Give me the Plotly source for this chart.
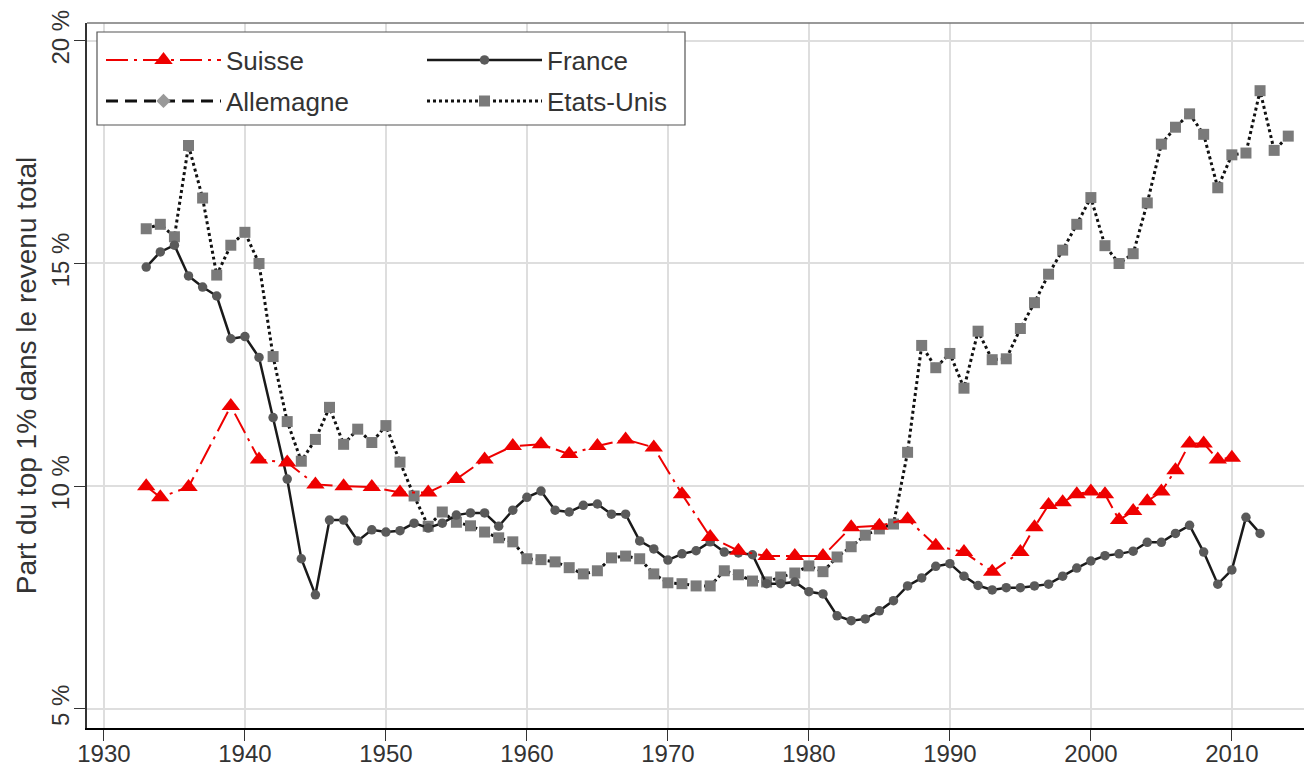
import plotly.graph_objects as go

years_us = list(range(1933, 2015))
us = [15.78, 15.88, 15.6, 17.65, 16.47, 14.74, 15.41, 15.7, 15.0, 12.91,
      11.45, 10.56, 11.05, 11.77, 10.94, 11.28, 10.98, 11.36, 10.54, 9.78,
      9.1, 9.42, 9.19, 9.11, 8.97, 8.84, 8.75, 8.37, 8.35, 8.3,
      8.17, 8.03, 8.1, 8.39, 8.43, 8.37, 8.03, 7.83, 7.81, 7.76,
      7.76, 8.1, 8.01, 7.87, 7.85, 7.96, 8.05, 8.21, 8.08, 8.41,
      8.64, 8.9, 9.04, 9.15, 10.76, 13.16, 12.66, 12.98, 12.2, 13.48,
      12.84, 12.86, 13.54, 14.12, 14.76, 15.3, 15.88, 16.48, 15.4, 15.0,
      15.22, 16.36, 17.68, 18.06, 18.36, 17.9, 16.7, 17.44, 17.48, 18.88,
      17.54, 17.86]

years_fr = list(range(1933, 2013))
france = [14.92, 15.26, 15.41, 14.72, 14.47, 14.27, 13.31, 13.36, 12.89, 11.54,
          10.16, 8.37, 7.56, 9.24, 9.24, 8.77, 9.02, 8.97, 9.0, 9.17,
          9.06, 9.17, 9.35, 9.4, 9.4, 9.1, 9.46, 9.75, 9.89, 9.46,
          9.42, 9.57, 9.6, 9.37, 9.37, 8.77, 8.59, 8.34, 8.48, 8.55,
          8.75, 8.52, 8.5, 8.46, 7.81, 7.81, 7.85, 7.63, 7.58, 7.09,
          6.98, 7.02, 7.2, 7.43, 7.76, 7.94, 8.2, 8.26, 7.98, 7.77,
          7.67, 7.72, 7.72, 7.76, 7.8, 7.98, 8.16, 8.32, 8.44, 8.48,
          8.54, 8.74, 8.74, 8.94, 9.12, 8.52, 7.8, 8.12, 9.3, 8.94]

years_ch = [1933, 1934, 1936, 1939, 1941, 1943, 1945, 1947, 1949, 1951,
            1953, 1955, 1957, 1959, 1961, 1963, 1965, 1967, 1969, 1971,
            1973, 1975, 1977, 1979, 1981, 1983, 1985, 1987, 1989, 1991,
            1993, 1995, 1996, 1997, 1998, 1999, 2000, 2001, 2002, 2003,
            2004, 2005, 2006, 2007, 2008, 2009, 2010]
suisse = [10.0, 9.75, 9.98, 11.8, 10.6, 10.53, 10.04, 10.0, 9.98, 9.86,
          9.86, 10.16, 10.6, 10.9, 10.94, 10.72, 10.9, 11.05, 10.87, 9.82,
          8.86, 8.55, 8.43, 8.43, 8.43, 9.08, 9.11, 9.26, 8.66, 8.52,
          8.08, 8.52, 9.08, 9.58, 9.64, 9.82, 9.88, 9.82, 9.24, 9.44,
          9.66, 9.88, 10.36, 10.96, 10.96, 10.6, 10.64]

# Germany appears only in the legend of the reference (no plotted values)
years_de = [None]
allemagne = [None]

x_ticks = [1930, 1940, 1950, 1960, 1970, 1980, 1990, 2000, 2010]
y_ticks = [5, 10, 15, 20]
y_labels = ["5 %", "10 %", "15 %", "20 %"]

FONT = "Liberation Sans"
NARROW = "Liberation Sans Narrow, Liberation Sans"
TXT = "#333333"

fig = go.Figure()

fig.add_trace(go.Scatter(
    x=years_us, y=us, name="Etats-Unis", mode="lines+markers",
    line=dict(color="#111111", width=3, dash="dot"),
    marker=dict(symbol="square", size=11, color="#7a7a7a"),
    legend="legend4"))

fig.add_trace(go.Scatter(
    x=years_fr, y=france, name="France", mode="lines+markers",
    line=dict(color="#1a1a1a", width=2.5),
    marker=dict(symbol="circle", size=9.5, color="#5a5a5a"),
    legend="legend2"))

fig.add_trace(go.Scatter(
    x=years_de, y=allemagne, name="Allemagne", mode="lines+markers",
    line=dict(color="#111111", width=3, dash="12px,7px"),
    marker=dict(symbol="diamond", size=11, color="#999999"),
    legend="legend3"))

fig.add_trace(go.Scatter(
    x=years_ch, y=suisse, name="Suisse", mode="lines+markers",
    line=dict(color="#ee0000", width=2, dash="22px,6px,3px,6px"),
    marker=dict(symbol="triangle-up", size=16, color="#ee0000"),
    legend="legend"))

# The page body has an 8px margin: the figure is drawn 8px right and down.
OFF = 8
W, H = 1312 - OFF, 771 - OFF
L, R, T, B = 87 - OFF, 4, 23 - OFF, 43
pw, ph = W - L - R, H - T - B

def px_x(p):  # screen px -> paper
    return (p - 87) / pw

def px_y(p):
    return (728 - p) / ph

leg_common = dict(bgcolor="rgba(0,0,0,0)", borderwidth=0, itemwidth=115,
                  font=dict(family=FONT, size=26, color=TXT),
                  xanchor="left", yanchor="middle", orientation="v")

fig.update_layout(
    template="none",
    width=W, height=H,
    margin=dict(l=L, r=R, t=T, b=B, pad=0),
    paper_bgcolor="white", plot_bgcolor="white",
    font=dict(family=FONT, size=20, color=TXT),
    showlegend=True,
    legend=dict(x=px_x(101), y=px_y(60), **leg_common),
    legend2=dict(x=px_x(422), y=px_y(60), **leg_common),
    legend3=dict(x=px_x(101), y=px_y(101), **leg_common),
    legend4=dict(x=px_x(422), y=px_y(101), **leg_common),
    xaxis=dict(range=[1928.8, 2015.4], tickvals=x_ticks, automargin=False,
               showgrid=True, gridcolor="#dedede", gridwidth=2,
               zeroline=False, showline=True, linecolor="black", linewidth=2,
               ticks="outside", ticklen=11, tickcolor="#333333", tickwidth=1,
               ticklabelstandoff=-8,
               tickfont=dict(family=NARROW, size=24, color=TXT)),
    yaxis=dict(range=[4.57, 20.4], tickvals=y_ticks, ticktext=y_labels,
               tickangle=-90, automargin=False,
               showgrid=True, gridcolor="#dedede", gridwidth=2,
               zeroline=False, showline=True, linecolor="#333333", linewidth=1.5,
               ticks="outside", ticklen=11, tickcolor="#333333", tickwidth=1,
               ticklabelstandoff=-4,
               tickfont=dict(family=NARROW, size=24, color=TXT),
               title=dict(text="Part du top 1% dans le revenu total",
                          font=dict(family=FONT, size=28, color=TXT),
                          standoff=2)),
    shapes=[
        dict(type="line", xref="paper", yref="paper", x0=0, x1=1, y0=1, y1=1,
             line=dict(color="#777777", width=1.5)),
        dict(type="line", xref="paper", yref="paper", x0=1, x1=1, y0=0, y1=1,
             line=dict(color="#777777", width=1.5)),
        dict(type="rect", xref="paper", yref="paper",
             x0=px_x(97), x1=px_x(685), y0=px_y(125), y1=px_y(32),
             line=dict(color="#555555", width=1.2), fillcolor="white",
             layer="above"),
    ],
)

fig.write_html("out.html")
